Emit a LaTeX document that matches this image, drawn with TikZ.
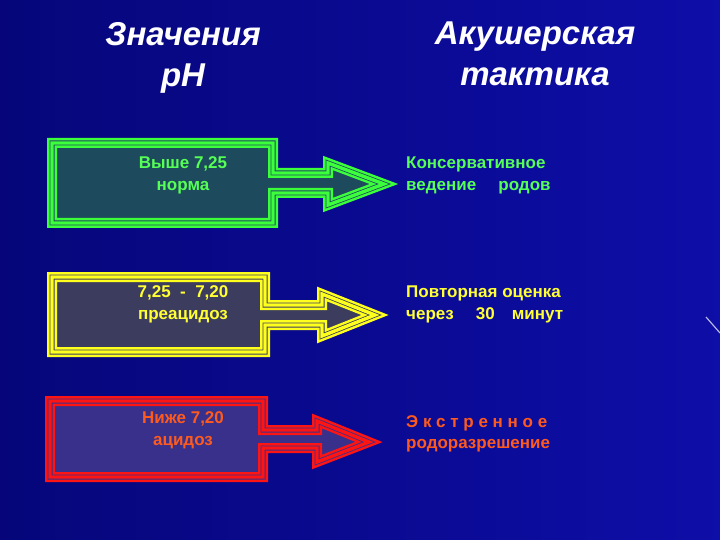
\documentclass[tikz,border=0pt]{standalone}
\usepackage{fontspec}
\setmainfont{Liberation Sans}
\usetikzlibrary{positioning}

\definecolor{bgdark}{HTML}{06067A}
\definecolor{bglight}{HTML}{0E0EA8}
\definecolor{normline}{HTML}{3CFF3C}
\definecolor{normfill}{HTML}{1E4A5E}
\definecolor{normtext}{HTML}{55FF55}
\definecolor{preline}{HTML}{FFFF1E}
\definecolor{prefill}{HTML}{3C3C5E}
\definecolor{pretext}{HTML}{FFFF33}
\definecolor{acidline}{HTML}{FF1414}
\definecolor{acidfill}{HTML}{38308A}
\definecolor{acidtext}{HTML}{FF5A1E}

\begin{document}
\begin{tikzpicture}[x=1pt,y=-1pt,
  phshape/.style 2 args={fill=#2, draw=#1, line width=10pt, line join=miter,
    postaction={draw=#2, line width=5pt, line join=miter},
    postaction={draw=#1, line width=3.4pt, line join=miter}},
  cell/.style={font=\bfseries\fontsize{17}{22}\selectfont, align=center, anchor=north, inner sep=0pt},
  tactic/.style={font=\bfseries\fontsize{17}{22}\selectfont, align=left, anchor=north west, inner sep=0pt},
  heading/.style={font=\bfseries\itshape\fontsize{33}{41}\selectfont, text=white, align=center, anchor=north, inner sep=0pt}]

  % background
  \fill[left color=bgdark, right color=bglight] (0,0) rectangle (720,540);
  \useasboundingbox (0,0) rectangle (720,540);
  \draw[white!70!bglight, line width=1.2pt] (706,317) -- (720,333);

  % headings
  \node[heading] (phhead) at (183,22) {Значения\\pH};
  \node[heading] (tacthead) at (535,22) {Акушерская\\тактика};

  % arrow boxes
  \path[phshape={normline}{normfill}]
    (52,143) -- (273,143) -- (273,173) -- (328,173) -- (328,163)
    -- (384,184) -- (328,205) -- (328,193) -- (273,193) -- (273,223) -- (52,223) -- cycle;
  \path[phshape={preline}{prefill}]
    (52,277) -- (265,277) -- (265,305) -- (322,305) -- (322,294)
    -- (375,315) -- (322,336) -- (322,325) -- (265,325) -- (265,352) -- (52,352) -- cycle;
  \path[phshape={acidline}{acidfill}]
    (50,401) -- (263,401) -- (263,430) -- (317,430) -- (317,421)
    -- (369,442) -- (317,462) -- (317,448) -- (263,448) -- (263,477) -- (50,477) -- cycle;

  % pH values
  \node[cell, text=normtext] (norm) at (183,156) {Выше 7,25\\норма};
  \node[cell, text=pretext] (preacid) at (183,285) {7,25\ \ -\ \ 7,20\\преацидоз};
  \node[cell, text=acidtext] (acid) at (183,411) {Ниже 7,20\\ацидоз};

  % tactics
  \node[tactic, text=normtext] (conserv) at (406,157) {Консервативное\\ведение\hspace{1.3em}родов};
  \node[tactic, text=pretext] (repeat) at (406,286) {Повторная оценка\\через\hspace{1.3em}30\hspace{1em}минут};
  \node[tactic, text=acidtext, font=\bfseries\fontsize{17}{21}\selectfont] (urgent) at (406,415)
    {Э к с т р е н н о е\\родоразрешение};
\end{tikzpicture}
\end{document}
